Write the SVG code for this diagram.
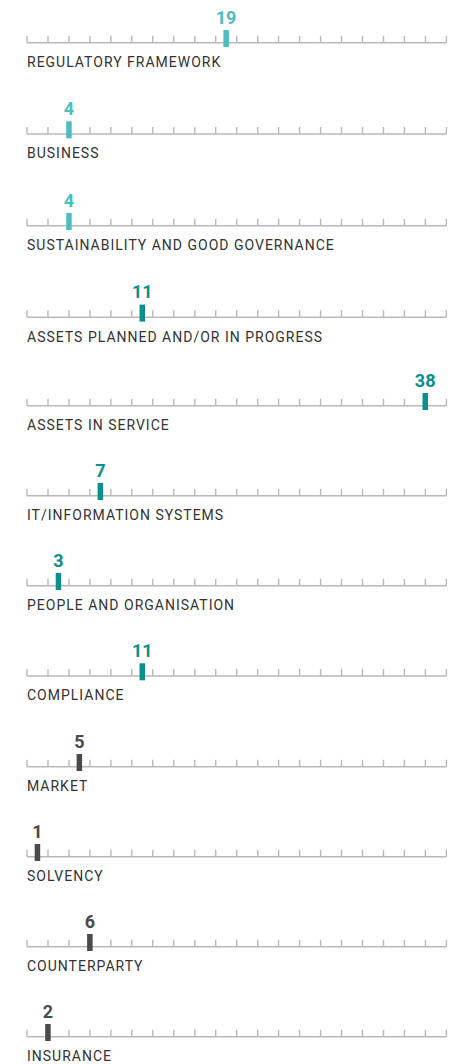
<svg xmlns="http://www.w3.org/2000/svg" width="456" height="1064" viewBox="0 0 456 1064">
<defs>
<style>
.axis{stroke:#b9b9b9;stroke-width:1.4;fill:none}
.lbl{font-family:Roboto,"Liberation Sans",sans-serif;font-size:14px;letter-spacing:1px;fill:#333333}
.num{font-family:Roboto,"Liberation Sans",sans-serif;font-size:18px;font-weight:bold;text-anchor:middle}
.c1{fill:#4dbdbf}.c2{fill:#0a8f8a}.c3{fill:#4a4a4a}
</style>
<g id="scale">
<path class="axis" d="M27,0H446.4M27,0V-7M48,0V-7M69,0V-7M89.9,0V-7M110.9,0V-7M131.8,0V-7M152.8,0V-7M173.8,0V-7M194.8,0V-7M215.7,0V-7M236.7,0V-7M257.7,0V-7M278.6,0V-7M299.6,0V-7M320.6,0V-7M341.5,0V-7M362.5,0V-7M383.5,0V-7M404.4,0V-7M425.4,0V-7M446.4,0V-7"/>
</g>
</defs>
<g id="regulatory-framework" transform="translate(0,42.7)">
<use href="#scale"/><rect class="c1" x="223.4" y="-12.7" width="5.5" height="17"/>
<text class="num c1" x="226.1" y="-19">19</text><text class="lbl" x="27" y="24.3">REGULATORY FRAMEWORK</text></g>
<g id="business" transform="translate(0,134)">
<use href="#scale"/><rect class="c1" x="66.2" y="-12.7" width="5.5" height="17"/>
<text class="num c1" x="68.9" y="-19">4</text><text class="lbl" x="27" y="24.3">BUSINESS</text></g>
<g id="sustainability" transform="translate(0,225.7)">
<use href="#scale"/><rect class="c1" x="66.2" y="-12.7" width="5.5" height="17"/>
<text class="num c1" x="68.9" y="-19">4</text><text class="lbl" x="27" y="24.3">SUSTAINABILITY AND GOOD GOVERNANCE</text></g>
<g id="assets-planned" transform="translate(0,317.3)">
<use href="#scale"/><rect class="c2" x="139.5" y="-12.7" width="5.5" height="17"/>
<text class="num c2" x="142.3" y="-19">11</text><text class="lbl" x="27" y="24.3">ASSETS PLANNED AND/OR IN PROGRESS</text></g>
<g id="assets-in-service" transform="translate(0,405.7)">
<use href="#scale"/><rect class="c2" x="422.5" y="-12.7" width="5.5" height="17"/>
<text class="num c2" x="425.2" y="-19">38</text><text class="lbl" x="27" y="24.3">ASSETS IN SERVICE</text></g>
<g id="it-systems" transform="translate(0,495.7)">
<use href="#scale"/><rect class="c2" x="97.6" y="-12.7" width="5.5" height="17"/>
<text class="num c2" x="100.4" y="-19">7</text><text class="lbl" x="27" y="24.3">IT/INFORMATION SYSTEMS</text></g>
<g id="people" transform="translate(0,585.7)">
<use href="#scale"/><rect class="c2" x="55.7" y="-12.7" width="5.5" height="17"/>
<text class="num c2" x="58.4" y="-19">3</text><text class="lbl" x="27" y="24.3">PEOPLE AND ORGANISATION</text></g>
<g id="compliance" transform="translate(0,676)">
<use href="#scale"/><rect class="c2" x="139.5" y="-12.7" width="5.5" height="17"/>
<text class="num c2" x="142.3" y="-19">11</text><text class="lbl" x="27" y="24.3">COMPLIANCE</text></g>
<g id="market" transform="translate(0,766.7)">
<use href="#scale"/><rect class="c3" x="76.6" y="-12.7" width="5.5" height="17"/>
<text class="num c3" x="79.4" y="-19">5</text><text class="lbl" x="27" y="24.3">MARKET</text></g>
<g id="solvency" transform="translate(0,856.7)">
<use href="#scale"/><rect class="c3" x="34.7" y="-12.7" width="5.5" height="17"/>
<text class="num c3" x="37.5" y="-19">1</text><text class="lbl" x="27" y="24.3">SOLVENCY</text></g>
<g id="counterparty" transform="translate(0,946.7)">
<use href="#scale"/><rect class="c3" x="87.1" y="-12.7" width="5.5" height="17"/>
<text class="num c3" x="89.9" y="-19">6</text><text class="lbl" x="27" y="24.3">COUNTERPARTY</text></g>
<g id="insurance" transform="translate(0,1036.7)">
<use href="#scale"/><rect class="c3" x="45.2" y="-12.7" width="5.5" height="17"/>
<text class="num c3" x="48" y="-19">2</text><text class="lbl" x="27" y="24.3">INSURANCE</text></g>
</svg>
